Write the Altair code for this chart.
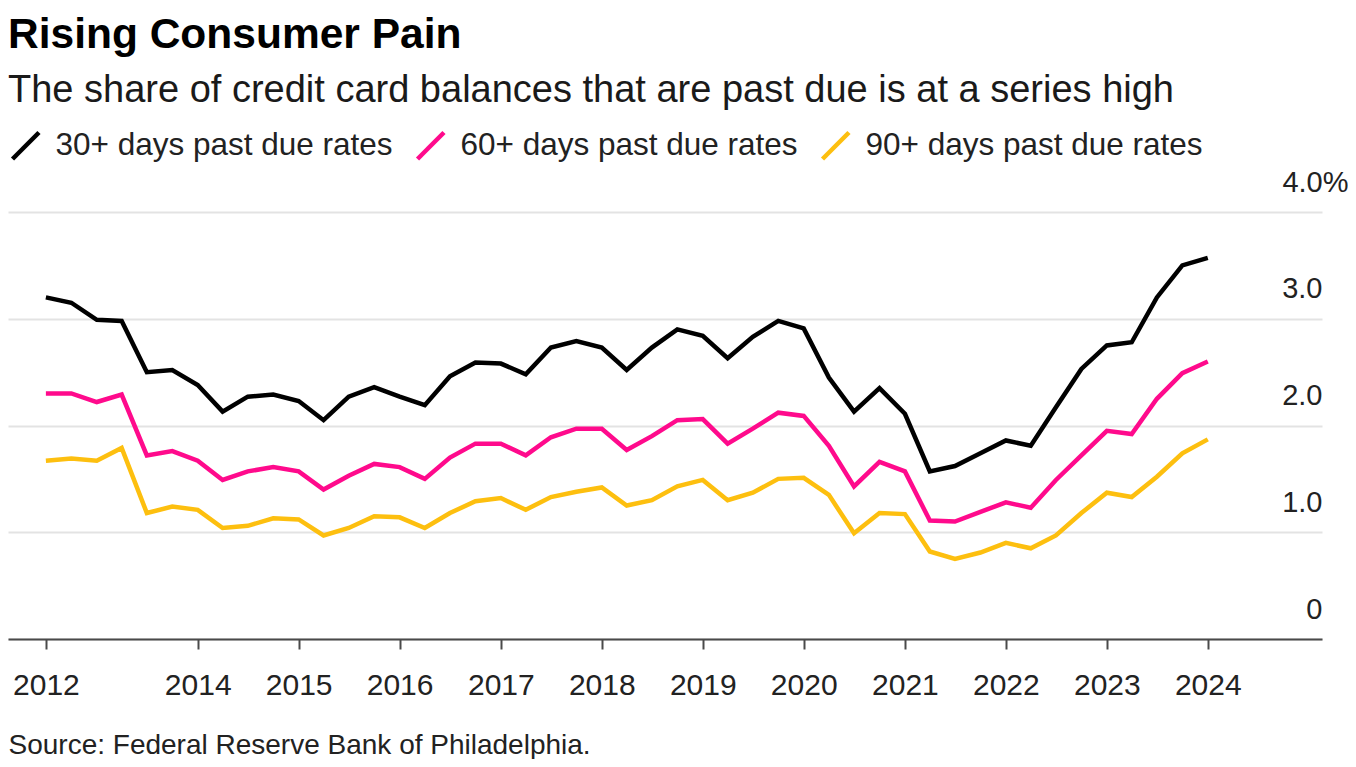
import altair as alt
import pandas as pd

# Quarterly observations, 2012 Q3 through 2024 Q1
quarters = pd.date_range("2012-07-01", "2024-01-01", freq="QS").strftime("%Y-%m-%d").tolist()

dpd30 = [3.20, 3.15, 2.99, 2.98, 2.50, 2.52, 2.38, 2.13, 2.27, 2.29,
         2.23, 2.05, 2.27, 2.36, 2.27, 2.19, 2.46, 2.59, 2.58, 2.48,
         2.73, 2.79, 2.73, 2.52, 2.73, 2.90, 2.84, 2.63, 2.83, 2.98,
         2.91, 2.45, 2.13, 2.35, 2.11, 1.57, 1.62, 1.74, 1.86, 1.81,
         2.17, 2.53, 2.75, 2.78, 3.20, 3.50, 3.57]
dpd60 = [2.30, 2.30, 2.22, 2.29, 1.72, 1.76, 1.67, 1.49, 1.57, 1.61,
         1.57, 1.40, 1.53, 1.64, 1.61, 1.50, 1.70, 1.83, 1.83, 1.72,
         1.89, 1.97, 1.97, 1.77, 1.90, 2.05, 2.06, 1.83, 1.97, 2.12,
         2.09, 1.81, 1.43, 1.66, 1.57, 1.11, 1.10, 1.19, 1.28, 1.23,
         1.49, 1.72, 1.95, 1.92, 2.25, 2.49, 2.60]
dpd90 = [1.67, 1.69, 1.67, 1.79, 1.18, 1.24, 1.21, 1.04, 1.06, 1.13,
         1.12, 0.97, 1.04, 1.15, 1.14, 1.04, 1.18, 1.29, 1.32, 1.21,
         1.33, 1.38, 1.42, 1.25, 1.30, 1.43, 1.49, 1.30, 1.37, 1.50,
         1.51, 1.35, 0.99, 1.18, 1.17, 0.82, 0.75, 0.81, 0.90, 0.85,
         0.97, 1.18, 1.37, 1.33, 1.52, 1.74, 1.87]

series_names = ["30+ days past due rates", "60+ days past due rates", "90+ days past due rates"]
series_colors = ["#000000", "#ff0a8c", "#fdbf0f"]
y_ticks = [0, 1, 2, 3, 4]
tick_years = list(range(2014, 2025))

rows = []
for name, vals in zip(series_names, [dpd30, dpd60, dpd90]):
    for q, v in zip(quarters, vals):
        rows.append({"quarter": q, "rate": v, "series": name})
df = pd.DataFrame(rows)

tick_dates = [alt.DateTime(year=2012, month=7, date=1)] + [
    alt.DateTime(year=y, month=1, date=1) for y in tick_years
]

FONT = "Liberation Sans"

chart = alt.Chart(df).mark_line(strokeWidth=4.5).encode(
    x=alt.X(
        "quarter:T",
        scale=alt.Scale(domain=[alt.DateTime(year=2012, month=2, date=15),
                                alt.DateTime(year=2025, month=2, date=17)]),
        axis=alt.Axis(
            values=tick_dates, format="%Y", grid=False,
            domainColor="#4a4a4a", domainWidth=2,
            tickColor="#4a4a4a", tickWidth=2, tickSize=10,
            labelFont=FONT, labelFontSize=30, labelColor="#222222",
            labelPadding=21, labelFlush=False, labelOverlap=False,
            title="Source: Federal Reserve Bank of Philadelphia.",
            titleFont=FONT, titleFontSize=28, titleFontWeight="normal",
            titleColor="#222222", titleAnchor="start", titleAlign="left",
            titleBaseline="alphabetic", titleX=0, titleY=114,
        ),
    ),
    y=alt.Y(
        "rate:Q",
        scale=alt.Scale(domain=[0, 4], nice=False),
        axis=alt.Axis(
            orient="right", values=y_ticks, title=None,
            domain=False, ticks=False, tickSize=0,
            gridColor="#e3e3e3", gridWidth=2,
            labelExpr="datum.value == 4 ? '4.0%' : (datum.value == 0 ? '0' : format(datum.value, '.1f'))",
            labelFont=FONT, labelFontSize=29, labelColor="#222222",
            labelAlign="right", labelBaseline="alphabetic",
            labelOffset=-21,
            labelPadding={"condition": {"test": "datum.value == 4", "value": 26}, "value": 0},
            labelFlush=False, labelOverlap=False, labelBound=False,
        ),
    ),
    color=alt.Color(
        "series:N",
        scale=alt.Scale(domain=series_names, range=series_colors),
        legend=alt.Legend(
            orient="none", legendX=2, legendY=-82, direction="horizontal",
            title=None, symbolType="M-1,1L1,-1", symbolSize=700,
            symbolStrokeWidth=4.5, labelFont=FONT, labelFontSize=31.5,
            labelColor="#222222", labelOffset=14, columnPadding=15,
            padding=0, labelLimit=0,
        ),
    ),
).properties(
    width=1314,
    height=427,
    background="white",
    autosize=alt.AutoSizeParams(type="none"),
    padding={"left": 0, "top": 204, "right": 26, "bottom": 120},
    title=alt.TitleParams(
        text="Rising Consumer Pain",
        subtitle="The share of credit card balances that are past due is at a series high",
        anchor="start", frame="group",
        font=FONT, fontSize=42.5, fontWeight="bold", color="#000000",
        subtitleFont=FONT, subtitleFontSize=38, subtitleColor="#1a1a1a",
        subtitlePadding=16, offset=20,
    ),
).configure_view(stroke=None, strokeWidth=0)

chart.save("out.html", embed_options={"renderer": "svg", "actions": False})
